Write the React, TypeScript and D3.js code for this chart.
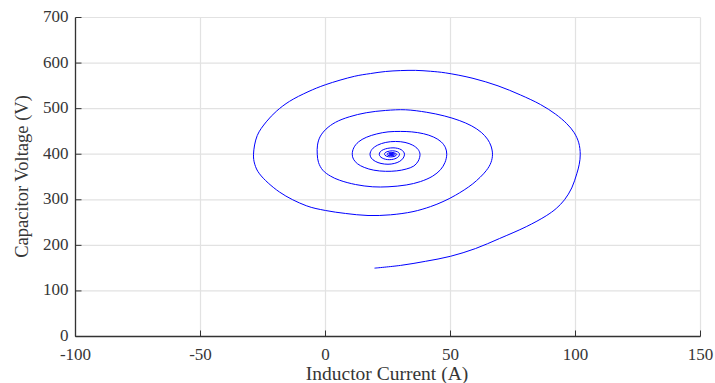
import React from "react";
import * as d3 from "d3";

const xTicks = [-100, -50, 0, 50, 100, 150];
const yTicks = [0, 100, 200, 300, 400, 500, 600, 700];

// Inductor current (A), read from the trajectory
const currentA = [
  // start -> first right extreme
  19.6, 30, 40, 50, 60, 69.6, 80.3, 88.3, 92.3, 95.6, 98.5, 100.5, 101.5, 101.9,
  // loop 1
  101.3, 99.5, 96.5, 92, 86, 78, 69, 59, 48, 42, 36,
  30, 24, 18, 11.6, 0, -7, -14.4, -19.5, -23.7, -27.3, -28.8,
  -28.3, -26.4, -18.4, -7.7, 0, 8, 17,
  26, 35, 42, 47, 52, 58.9, 64.3, 66.2, 66.8,
  // loop 2
  66.2, 64.8, 62.3, 58.5, 53.5, 47.5, 40.5, 32,
  24, 16.3, 9.5, 4, 0.2, -2.2, -3.2, -3.3,
  -2.8, -1.1, 2, 5.6, 12, 18.9, 25, 32.3, 38, 42.9, 46, 47.8, 48.5,
  // loop 3
  48, 46.3, 43.3, 39.2, 34.5, 30, 25, 20.5, 16.3, 13.2, 11.3, 10.7,
  11.2, 12.8, 15.5, 19.3, 24, 28.5, 32.3, 35.3, 37.1, 37.8,
  // loop 4
  37, 34.9, 31.8, 28, 24.1, 20.8, 18.6, 17.8,
  18.3, 19.9, 22.2, 25, 27.5, 29.7, 31.1, 31.6,
  // loop 5
  31.2, 30.3, 28.8, 27, 24.9, 23.1, 21.9, 21.5,
  21.8, 22.7, 24, 25.5, 27.1, 28.4, 29.3, 29.6,
  // loop 6
  29.4, 28.8, 27.9, 26.8, 25.6, 24.5, 23.8, 23.6,
  23.8, 24.3, 25.1, 26, 27, 27.8, 28.3, 28.5,
  // loop 7
  28.2, 27.5, 26.5, 25.4, 24.8, 24.6, 24.9, 25.4, 26.2, 27.1, 27.6, 27.8,
  // loop 8 and settling
  27.6, 27, 26.4, 25.8, 25.4, 25.3, 25.5, 26, 26.5, 27, 27.2, 27.3,
  26.9, 26.3, 25.8, 25.8, 26.3, 26.8, 26.8, 26.4, 26.1, 26.3, 26.5,
];

// Capacitor voltage (V), read from the trajectory
const voltageV = [
  150, 156, 165, 176, 193, 215, 241, 265, 281, 300, 326, 357, 378, 400,
  425, 447, 467, 488, 509, 530, 550, 566.5, 578.5, 582, 584,
  583.5, 581.5, 577, 571, 552.5, 537, 516, 495, 471, 441, 400,
  378, 357, 317, 287, 276.5, 270, 265.5,
  267, 274, 285, 296, 310, 335, 364, 382, 400,
  418, 433, 448, 462, 474, 484, 492, 497.5,
  496, 491, 482, 470, 455, 438, 420, 400,
  382, 365, 352, 343, 333.5, 328.5, 328.5, 332.5, 340, 352, 366, 382, 400,
  414, 427, 437.5, 445, 449, 450, 449, 444.5, 437, 427, 414, 400,
  389, 379, 371, 365, 362.5, 363.5, 367.5, 374, 385, 400,
  410.7, 419.8, 425.9, 428, 425.9, 419.8, 410.7, 400,
  391.6, 384.4, 379.7, 378, 379.7, 384.4, 391.6, 400,
  405.4, 409.9, 412.9, 414, 412.9, 409.9, 405.4, 400,
  395.4, 391.5, 388.9, 388, 388.9, 391.5, 395.4, 400,
  402.9, 405.3, 406.9, 407.5, 406.9, 405.3, 402.9, 400,
  397.7, 395.8, 394.5, 394, 394.5, 395.8, 397.7, 400,
  401.5, 403, 404, 403, 401.5, 400, 398, 396.9, 396.5, 396.9, 398.1, 400,
  401.3, 402.2, 402.3, 401.8, 400.8, 400, 399, 398.2, 398, 398.5, 399.3, 400,
  401, 401.2, 400.6, 399.5, 399, 399.4, 400.3, 400.6, 400.1, 399.7, 400,
];

const W = 715;
const H = 383;
const left = 75.5;
const right = 700.5;
const top = 17.5;
const bottom = 336.5;
const font = "'Liberation Serif', 'Times New Roman', serif";
const textColor = "#363636";

export default function App() {
  const x = d3.scaleLinear().domain([-100, 150]).range([left, right]);
  const y = d3.scaleLinear().domain([0, 700]).range([bottom, top]);
  const pts: [number, number][] = currentA.map((c, i) => [c, voltageV[i]]);
  const line = d3
    .line<[number, number]>()
    .x((d) => x(d[0]))
    .y((d) => y(d[1]))
    .curve(d3.curveCatmullRom.alpha(0.5));

  return (
    <svg
      width={W}
      height={H}
      style={{ position: "absolute", left: 0, top: 0, background: "#fff" }}
    >
      {/* grid */}
      {xTicks.map((t) => (
        <line key={"gx" + t} x1={x(t)} x2={x(t)} y1={top} y2={bottom} stroke="#e2e2e2" strokeWidth={1.2} />
      ))}
      {yTicks.map((t) => (
        <line key={"gy" + t} x1={left} x2={right} y1={y(t)} y2={y(t)} stroke="#e2e2e2" strokeWidth={1.2} />
      ))}
      {/* trajectory */}
      <path d={line(pts) || ""} fill="none" stroke="#0000ff" strokeWidth={1} />
      {/* axes */}
      <line x1={left} x2={left} y1={top} y2={bottom} stroke="#333" strokeWidth={1.3} />
      <line x1={left} x2={right} y1={bottom} y2={bottom} stroke="#333" strokeWidth={1.3} />
      {xTicks.map((t) => (
        <g key={"tx" + t}>
          <line x1={x(t)} x2={x(t)} y1={bottom} y2={bottom - 6} stroke="#333" strokeWidth={1} />
          <text x={x(t)} y={360} textAnchor="middle" fontFamily={font} fontSize={17} fill={textColor}>
            {t}
          </text>
        </g>
      ))}
      {yTicks.map((t) => (
        <g key={"ty" + t}>
          <line x1={left} x2={left + 6} y1={y(t)} y2={y(t)} stroke="#333" strokeWidth={1} />
          <text x={68.5} y={y(t) + 4.5} textAnchor="end" fontFamily={font} fontSize={17} fill={textColor}>
            {t}
          </text>
        </g>
      ))}
      <text x={387} y={380} textAnchor="middle" fontFamily={font} fontSize={19.5} fill={textColor}>
        Inductor Current (A)
      </text>
      <text
        transform={`translate(28, 176.5) rotate(-90)`}
        textAnchor="middle"
        fontFamily={font}
        fontSize={18.5}
        fill={textColor}
      >
        Capacitor Voltage (V)
      </text>
    </svg>
  );
}
